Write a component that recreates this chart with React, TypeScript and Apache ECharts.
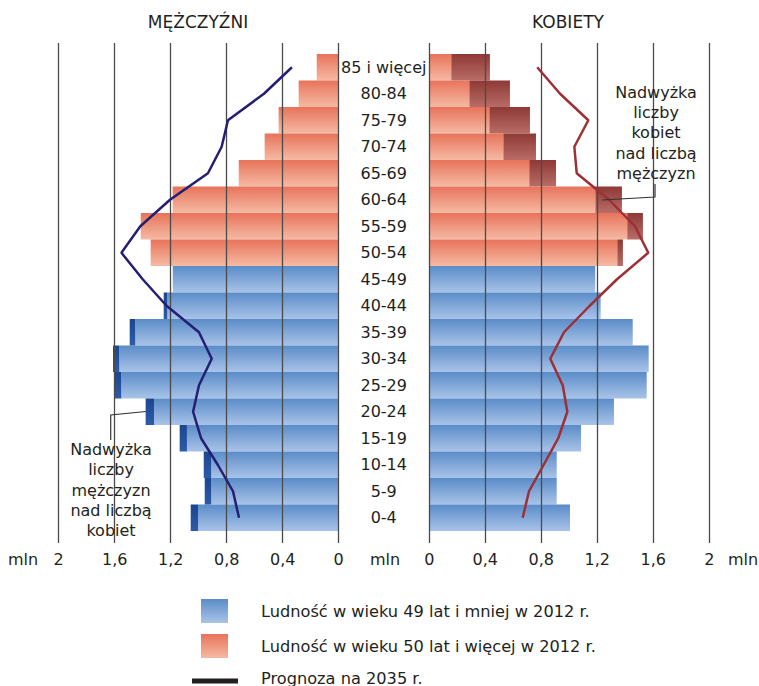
import { useEffect, useRef } from 'react';
import * as echarts from 'echarts';

// Age groups, top to bottom
const ages = ['85 i więcej', '80-84', '75-79', '70-74', '65-69', '60-64', '55-59', '50-54', '45-49', '40-44', '35-39', '30-34', '25-29', '20-24', '15-19', '10-14', '5-9', '0-4'];
// Population 2012 (mln)
const men2012 = [0.157, 0.286, 0.429, 0.529, 0.714, 1.186, 1.414, 1.343, 1.185, 1.25, 1.493, 1.612, 1.605, 1.379, 1.136, 0.964, 0.957, 1.057];
const women2012 = [0.433, 0.576, 0.719, 0.762, 0.905, 1.376, 1.526, 1.383, 1.185, 1.224, 1.453, 1.567, 1.553, 1.319, 1.084, 0.91, 0.91, 1.005];
// Forecast 2035 (mln)
const men2035 = [0.334, 0.534, 0.791, 0.836, 0.934, 1.205, 1.417, 1.552, 1.4, 1.23, 0.998, 0.907, 0.998, 1.04, 0.983, 0.864, 0.755, 0.712];
const women2035 = [0.771, 0.934, 1.136, 1.036, 1.053, 1.284, 1.469, 1.564, 1.341, 1.146, 0.962, 0.864, 0.953, 0.986, 0.921, 0.817, 0.712, 0.667];
// Groups aged 50+ in 2012 (drawn in red)
const olderGroups = ['85 i więcej', '80-84', '75-79', '70-74', '65-69', '60-64', '55-59', '50-54'];
// Tick labels
const axisMin = 0;
const axisMax = 2;
const axisStep = 0.4;

const FONT = '"DejaVu Sans", "Liberation Sans", sans-serif';
const INK = '#231f20';

const grad = (top: string, bottom: string) =>
  new echarts.graphic.LinearGradient(0, 0, 0, 1, [
    { offset: 0, color: top },
    { offset: 1, color: bottom },
  ]);

const blueGrad = () => grad('#5a8cc8', '#a9c3e8');
const redGrad = () => grad('#e8735a', '#f5baa4');
const menDark = () => grad('#1b4690', '#2c5ba8');
const womenDark = () => grad('#8e3935', '#b96c66');

const fmt = (v: number) => {
  const s = String(+v.toFixed(1));
  return s.replace('.', ',');
};

export default function App() {
  const ref = useRef<HTMLDivElement>(null);

  useEffect(() => {
    if (!ref.current) return;
    const chart = echarts.init(ref.current, undefined, { renderer: 'svg' });

    const common = ages.map((a, i) => Math.min(men2012[i], women2012[i]));
    const lightData = ages.map((a, i) => ({
      value: common[i],
      itemStyle: { color: olderGroups.includes(a) ? redGrad() : blueGrad() },
    }));
    const menExtra = ages.map((a, i) => Math.max(0, +(men2012[i] - common[i]).toFixed(3)));
    const womenExtra = ages.map((a, i) => Math.max(0, +(women2012[i] - common[i]).toFixed(3)));

    const linesAxis = (inverse: boolean, idx: number) => ({
      type: 'value',
      gridIndex: idx,
      min: axisMin,
      max: axisMax,
      interval: axisStep,
      inverse,
      position: 'bottom',
      z: 5,
      axisLine: { show: false },
      axisTick: { show: false },
      splitLine: { show: true, lineStyle: { color: '#4a4a4a', width: 1.3 } },
      axisLabel: {
        show: true,
        formatter: fmt,
        fontSize: 16,
        fontFamily: FONT,
        color: INK,
        margin: 8,
      },
    });
    const barsAxis = (inverse: boolean, idx: number) => ({
      type: 'value',
      gridIndex: idx,
      min: axisMin,
      max: axisMax,
      inverse,
      show: false,
    });

    const option: any = {
      animation: false,
      grid: [
        { left: 58.7, top: 43, width: 280, height: 500, outerBoundsMode: 'none' },
        { left: 58.7, top: 54, width: 280, height: 477, outerBoundsMode: 'none' },
        { left: 429.3, top: 43, width: 280, height: 500, outerBoundsMode: 'none' },
        { left: 429.3, top: 54, width: 280, height: 477, outerBoundsMode: 'none' },
      ],
      xAxis: [linesAxis(true, 0), barsAxis(true, 1), linesAxis(false, 2), barsAxis(false, 3)],
      yAxis: [
        { type: 'value', gridIndex: 0, show: false },
        {
          type: 'category',
          gridIndex: 1,
          data: ages,
          inverse: true,
          position: 'right',
          axisLine: { show: false },
          axisTick: { show: false },
          splitLine: { show: false },
          axisLabel: {
            show: true,
            margin: 45,
            align: 'center',
            fontSize: 16,
            fontFamily: FONT,
            color: INK,
          },
        },
        { type: 'value', gridIndex: 2, show: false },
        { type: 'category', gridIndex: 3, data: ages, inverse: true, show: false },
      ],
      series: [
        {
          type: 'bar', name: 'm2012', xAxisIndex: 1, yAxisIndex: 1, stack: 'm',
          barCategoryGap: '0%', data: lightData, silent: true, z: 2,
        },
        {
          type: 'bar', name: 'mExtra', xAxisIndex: 1, yAxisIndex: 1, stack: 'm',
          barCategoryGap: '0%', data: menExtra, itemStyle: { color: menDark() }, silent: true, z: 2,
        },
        {
          type: 'bar', name: 'w2012', xAxisIndex: 3, yAxisIndex: 3, stack: 'w',
          barCategoryGap: '0%', data: lightData, silent: true, z: 2,
        },
        {
          type: 'bar', name: 'wExtra', xAxisIndex: 3, yAxisIndex: 3, stack: 'w',
          barCategoryGap: '0%', data: womenExtra, itemStyle: { color: womenDark() }, silent: true, z: 2,
        },
        {
          type: 'line', name: 'm2035', xAxisIndex: 1, yAxisIndex: 1, data: men2035,
          showSymbol: false, silent: true, z: 10,
          lineStyle: { color: '#251f74', width: 2.5 },
        },
        {
          type: 'line', name: 'w2035', xAxisIndex: 3, yAxisIndex: 3, data: women2035,
          showSymbol: false, silent: true, z: 10,
          lineStyle: { color: '#9c3036', width: 2.5 },
        },
      ],
      graphic: [
        { type: 'text', x: 198, y: 22, style: { text: 'MĘŻCZYŹNI', fontSize: 17, fontFamily: FONT, fill: INK, textAlign: 'center', textVerticalAlign: 'middle' } },
        { type: 'text', x: 568, y: 22, style: { text: 'KOBIETY', fontSize: 17, fontFamily: FONT, fill: INK, textAlign: 'center', textVerticalAlign: 'middle' } },
        { type: 'text', x: 23, y: 559, style: { text: 'mln', fontSize: 16, fontFamily: FONT, fill: INK, textAlign: 'center', textVerticalAlign: 'middle' } },
        { type: 'text', x: 385, y: 559, style: { text: 'mln', fontSize: 16, fontFamily: FONT, fill: INK, textAlign: 'center', textVerticalAlign: 'middle' } },
        { type: 'text', x: 743, y: 559, style: { text: 'mln', fontSize: 16, fontFamily: FONT, fill: INK, textAlign: 'center', textVerticalAlign: 'middle' } },
        // annotations
        { type: 'text', x: 656, y: 82, z: 20, style: { text: 'Nadwyżka\nliczby\nkobiet\nnad liczbą\nmężczyzn', fontSize: 16, lineHeight: 20.3, fontFamily: FONT, fill: INK, textAlign: 'center', textVerticalAlign: 'top' } },
        { type: 'polyline', z: 20, shape: { points: [[655, 184], [655, 197], [602, 200]] }, style: { stroke: '#333', lineWidth: 1.2, fill: null } },
        { type: 'text', x: 111, y: 439, z: 20, style: { text: 'Nadwyżka\nliczby\nmężczyzn\nnad liczbą\nkobiet', fontSize: 16, lineHeight: 20.4, fontFamily: FONT, fill: INK, textAlign: 'center', textVerticalAlign: 'top' } },
        { type: 'polyline', z: 20, shape: { points: [[110.7, 440], [110.7, 415], [146, 411.5]] }, style: { stroke: '#333', lineWidth: 1.2, fill: null } },
        // legend
        { type: 'rect', shape: { x: 201, y: 599, width: 27, height: 24 }, style: { fill: blueGrad() } },
        { type: 'text', x: 261, y: 611, style: { text: 'Ludność w wieku 49 lat i mniej w 2012 r.', fontSize: 16.2, fontFamily: FONT, fill: INK, textAlign: 'left', textVerticalAlign: 'middle' } },
        { type: 'rect', shape: { x: 201, y: 634, width: 27, height: 24 }, style: { fill: redGrad() } },
        { type: 'text', x: 261, y: 646, style: { text: 'Ludność w wieku 50 lat i więcej w 2012 r.', fontSize: 16.2, fontFamily: FONT, fill: INK, textAlign: 'left', textVerticalAlign: 'middle' } },
        { type: 'line', shape: { x1: 192, y1: 681, x2: 238, y2: 681 }, style: { stroke: INK, lineWidth: 5 } },
        { type: 'text', x: 261, y: 678, style: { text: 'Prognoza na 2035 r.', fontSize: 16.2, fontFamily: FONT, fill: INK, textAlign: 'left', textVerticalAlign: 'middle' } },
      ],
    };

    chart.setOption(option);
    return () => chart.dispose();
  }, []);

  return (
    <div
      ref={ref}
      style={{ position: 'fixed', left: 0, top: 0, width: 759, height: 686, background: '#ffffff' }}
    />
  );
}
